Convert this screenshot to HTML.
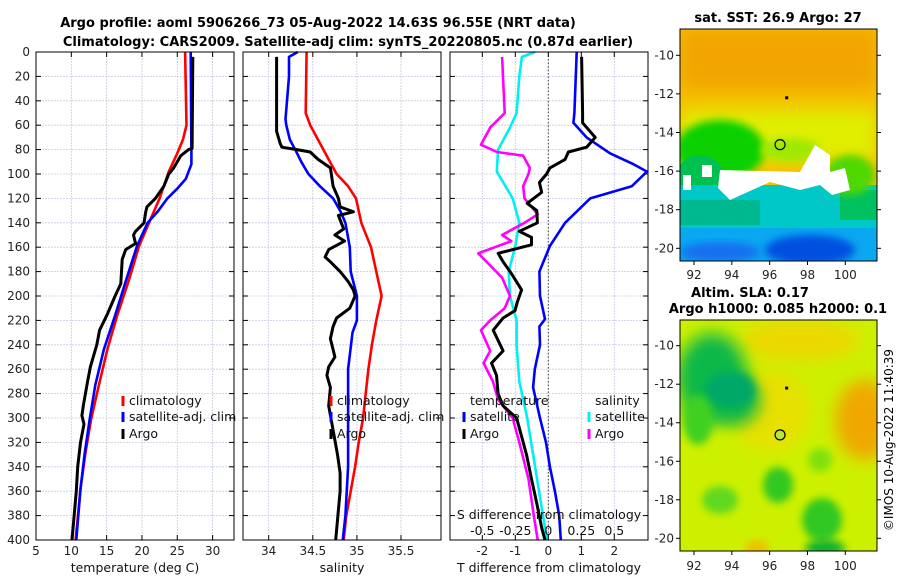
<!DOCTYPE html>
<html><head><meta charset="utf-8"><style>
html,body{margin:0;padding:0;background:#fff;}
svg{display:block;font-family:"DejaVu Sans","Liberation Sans",sans-serif;}
</style></head><body>
<svg id="fig" width="900" height="580" viewBox="0 0 900 580" xmlns="http://www.w3.org/2000/svg">
<defs>
<filter id="blur4" x="-20%" y="-20%" width="140%" height="140%"><feGaussianBlur stdDeviation="4"/></filter>
<filter id="blur8" x="-30%" y="-30%" width="160%" height="160%"><feGaussianBlur stdDeviation="8"/></filter>
<clipPath id="clipM1"><rect x="680" y="29" width="197" height="232"/></clipPath>
<clipPath id="clipM2"><rect x="680" y="320" width="197" height="231"/></clipPath>
</defs>
<text x="318" y="27" text-anchor="middle" font-size="13" font-weight="bold">Argo profile: aoml 5906266_73 05-Aug-2022 14.63S 96.55E (NRT data)</text>
<text x="348" y="46" text-anchor="middle" font-size="13" font-weight="bold">Climatology: CARS2009. Satellite-adj clim: synTS_20220805.nc (0.87d earlier)</text>
<g id="charts"></g>

<g>
<text x="778" y="22" text-anchor="middle" font-size="13" font-weight="bold">sat. SST: 26.9 Argo: 27</text>
<g clip-path="url(#clipM1)">
<rect x="680" y="29" width="197" height="232" fill="#f5c000"/>
<rect x="680" y="29" width="197" height="60" fill="#f2a400" filter="url(#blur8)"/>
<rect x="680" y="110" width="197" height="50" fill="#e0ee00" filter="url(#blur8)"/>
<ellipse cx="720" cy="150" rx="45" ry="30" fill="#10d000" filter="url(#blur4)"/>
<ellipse cx="700" cy="180" rx="25" ry="25" fill="#00c050"/>
<rect x="680" y="185" width="197" height="76" fill="#00c8c8"/>
<rect x="680" y="200" width="80" height="25" fill="#00b890"/>
<rect x="840" y="190" width="37" height="30" fill="#00c060"/>
<rect x="680" y="228" width="197" height="33" fill="#0aa8f0"/>
<ellipse cx="810" cy="250" rx="45" ry="15" fill="#0050e0" filter="url(#blur4)"/>
<ellipse cx="720" cy="252" rx="40" ry="10" fill="#1870f0" filter="url(#blur4)"/>
<ellipse cx="790" cy="150" rx="30" ry="12" fill="#a0e800" filter="url(#blur4)"/>
<ellipse cx="850" cy="175" rx="25" ry="20" fill="#50d800" filter="url(#blur4)"/>
<path d="M720 170 L800 172 L815 145 L830 155 L830 172 L845 168 L850 190 L832 195 L820 185 L800 190 L770 182 L730 200 L718 188 Z" fill="#ffffff"/>
<rect x="683" y="175" width="8" height="15" fill="#fff"/>
<rect x="702" y="165" width="10" height="12" fill="#fff"/>
</g>
<rect x="680" y="29" width="197" height="232" fill="none" stroke="#000" stroke-width="1"/>
</g>

<g>
<text x="750" y="297" text-anchor="middle" font-size="13" font-weight="bold">Altim. SLA: 0.17</text>
<text x="778" y="313" text-anchor="middle" font-size="13" font-weight="bold">Argo h1000: 0.085 h2000: 0.1</text>
<g clip-path="url(#clipM2)">
<rect x="680" y="320" width="197" height="231" fill="#cdf000"/>
<ellipse cx="800" cy="340" rx="60" ry="20" fill="#ecd800" filter="url(#blur8)"/>
<ellipse cx="865" cy="420" rx="30" ry="40" fill="#f0a800" filter="url(#blur8)"/>
<ellipse cx="770" cy="410" rx="40" ry="40" fill="#e8e000" filter="url(#blur8)"/>
<ellipse cx="712" cy="378" rx="35" ry="45" fill="#10b848" filter="url(#blur8)"/>
<ellipse cx="735" cy="400" rx="25" ry="25" fill="#10b848" filter="url(#blur8)"/>
<ellipse cx="730" cy="390" rx="25" ry="18" fill="#00a868" filter="url(#blur4)"/>
<ellipse cx="698" cy="420" rx="15" ry="25" fill="#40d020" filter="url(#blur4)"/>
<ellipse cx="720" cy="500" rx="18" ry="14" fill="#60d820" filter="url(#blur4)"/>
<ellipse cx="778" cy="485" rx="15" ry="18" fill="#30c820" filter="url(#blur4)"/>
<ellipse cx="822" cy="520" rx="20" ry="22" fill="#30c820" filter="url(#blur4)"/>
<ellipse cx="825" cy="548" rx="20" ry="8" fill="#10b030" filter="url(#blur4)"/>
<ellipse cx="820" cy="460" rx="12" ry="12" fill="#80e010" filter="url(#blur4)"/>
<ellipse cx="757" cy="548" rx="12" ry="8" fill="#f0c000" filter="url(#blur4)"/>
</g>
<rect x="680" y="320" width="197" height="231" fill="none" stroke="#000" stroke-width="1"/>
</g>
<text transform="translate(893,440) rotate(-90)" text-anchor="middle" font-size="12">©IMOS 10-Aug-2022 11:40:39</text>
</svg>

<script>
// ---------- data ----------
const climTDepth = [0,60,72,83,98,120,140,159,188,216,244,273,301,329,358,400];
const climT      = [26.1,26.3,25.8,25.0,23.8,22.5,21.0,19.6,18.1,16.5,15.1,13.9,12.8,12.0,11.3,10.6];
const satTDepth  = [0,83,92,98,104,112,120,131,140,159,188,216,244,273,301,329,358,400];
const satT       = [26.9,27.0,27.0,26.6,26.2,25.0,23.6,22.2,20.8,19.3,17.7,16.2,14.6,13.4,12.6,11.9,11.3,10.7];
const argoTDepth = [4,79,80,85,95,100,110,120,127,132,140,147,150,157,162,170,190,200,215,228,240,258,270,290,298,305,320,340,360,400];
const argoT      = [27.2,27.1,26.6,25.5,24.5,23.8,23.1,21.9,20.7,20.5,20.3,19.1,18.8,19.1,17.7,17.2,17.0,16.2,15.1,14.0,13.6,12.7,12.3,11.7,11.5,11.8,11.3,10.9,10.7,10.1];

const climSDepth = [0,50,60,80,100,110,120,140,160,180,200,220,240,260,280,300,320,340,360,380,400];
const climS      = [34.43,34.42,34.47,34.62,34.77,34.90,34.99,35.05,35.16,35.22,35.28,35.22,35.17,35.13,35.10,35.07,35.02,34.98,34.93,34.88,34.85];
const satSDepth  = [0,4,20,55,60,72,80,90,100,110,120,130,140,160,180,200,220,230,260,300,340,380,400];
const satS       = [34.33,34.23,34.23,34.19,34.20,34.24,34.30,34.37,34.45,34.58,34.73,34.81,34.87,34.92,34.93,35.00,35.00,34.95,34.90,34.90,34.90,34.87,34.84];
const argoSDepth = [4,65,75,78,80,82,88,95,100,110,120,127,131,134,145,150,155,162,168,172,180,188,195,200,210,218,225,235,250,258,265,275,290,310,330,345,360,400];
const argoS      = [34.09,34.09,34.13,34.15,34.32,34.47,34.56,34.70,34.71,34.73,34.79,34.81,34.96,34.79,34.85,34.75,34.86,34.68,34.64,34.70,34.81,34.90,34.96,34.98,34.92,34.77,34.73,34.70,34.75,34.68,34.66,34.70,34.68,34.73,34.78,34.81,34.81,34.76];

const dTSatDepth = [0,50,58,70,83,92,98,110,120,140,159,180,200,219,225,240,260,275,300,320,340,360,380,400];
const dTSat      = [0.86,0.79,0.76,1.16,1.87,2.58,2.99,2.53,1.27,0.51,0.05,-0.27,-0.25,-0.10,-0.27,-0.25,-0.41,-0.46,-0.25,-0.07,0.05,0.20,0.33,0.38];
const dTArgoDepth= [4,50,58,70,78,82,88,95,100,107,115,124,130,140,147,152,158,165,172,182,195,205,212,218,228,245,255,265,280,290,300,310,330,350,370,390,400];
const dTArgo     = [1.01,1.04,1.04,1.42,1.16,0.61,0.51,0.05,-0.05,-0.27,-0.20,-0.64,-0.35,-0.33,-0.88,-0.51,-0.51,-1.52,-1.37,-1.11,-0.81,-0.94,-1.01,-1.37,-1.67,-1.37,-1.72,-1.57,-1.52,-1.37,-0.96,-0.86,-0.66,-0.51,-0.35,-0.20,-0.10];
const dSSatDepth = [0,4,20,50,62,80,98,120,140,159,180,200,220,240,270,300,340,380,400];
const dSSat      = [-0.10,-0.20,-0.22,-0.24,-0.29,-0.38,-0.39,-0.27,-0.22,-0.25,-0.30,-0.29,-0.24,-0.24,-0.22,-0.16,-0.10,-0.04,-0.01];
const dSArgoDepth= [4,50,62,76,82,85,95,100,110,120,133,140,150,155,165,175,185,200,210,220,228,245,255,270,285,300,320,350,380,400];
const dSArgo     = [-0.35,-0.33,-0.44,-0.51,-0.39,-0.19,-0.14,-0.15,-0.19,-0.18,-0.08,-0.18,-0.35,-0.28,-0.53,-0.44,-0.35,-0.29,-0.33,-0.44,-0.51,-0.44,-0.49,-0.42,-0.38,-0.27,-0.22,-0.15,-0.11,-0.08];

const depthTicks = [0,20,40,60,80,100,120,140,160,180,200,220,240,260,280,300,320,340,360,380,400];
const tTicks = [5,10,15,20,25,30];
const sTicks = [34,34.5,35,35.5];
const dTTicks = [-2,-1,0,1,2];
const dSTicks = [-0.5,-0.25,0,0.25,0.5];
const dSTickLabels = ["-0.5","-0.25","0","0.25","0.5"];
const lonTicks = [92,94,96,98,100];
const latTicks = [-10,-12,-14,-16,-18,-20];
const argoLon = 96.55, argoLat = -14.63;
const markLon = 96.9, markLat = -12.2;

// ---------- helpers ----------
const NS = "http://www.w3.org/2000/svg";
const root = document.getElementById('charts');
const fig = document.getElementById('fig');
function mk(tag, attrs, parent){ const e=document.createElementNS(NS,tag); for(const k in attrs) e.setAttribute(k,attrs[k]); (parent||root).appendChild(e); return e; }
const Y0=52, Y1=540;
const yDepth = d => Y0 + (d/400)*(Y1-Y0);
function lin(d0,d1,r0,r1){ return v => r0 + (v-d0)/(d1-d0)*(r1-r0); }

function frame(name){
  const g = mk('g',{});
  
  
  return g;
}
function grid(g,x0,x1,xs,xf){
  depthTicks.forEach(d=>{ if(d>0 && d<400){ const l=mk('line',{x1:x0,x2:x1,y1:yDepth(d),y2:yDepth(d),stroke:'#c5cbe0','stroke-width':0.8,'stroke-dasharray':'2,1'},g);
    
     }});
  xs.forEach(v=>{ const x=xf(v); if(x>x0+1 && x<x1-1){ const l=mk('line',{x1:x,x2:x,y1:Y0,y2:Y1,stroke:'#c5cbe0','stroke-width':0.8,'stroke-dasharray':'2,1'},g);
    
     }});
}
function box(g,x0,x1,xs,xf,labels,lblY){
  mk('rect',{x:x0,y:Y0,width:x1-x0,height:Y1-Y0,fill:'none',stroke:'#000','stroke-width':1},g);
  depthTicks.forEach(d=>{ mk('line',{x1:x0,x2:x0+5,y1:yDepth(d),y2:yDepth(d),stroke:'#000'},g); mk('line',{x1:x1-5,x2:x1,y1:yDepth(d),y2:yDepth(d),stroke:'#000'},g); });
  xs.forEach((v,i)=>{ const x=xf(v); mk('line',{x1:x,x2:x,y1:Y1,y2:Y1-5,stroke:'#000'},g); mk('line',{x1:x,x2:x,y1:Y0,y2:Y0+5,stroke:'#000'},g);
    const t=mk('text',{x:x,y:lblY,'text-anchor':'middle','font-size':12,fill:'#222'},g); t.textContent=labels[i];
    
     });
}
function line(g,depths,vals,xf,color,name,w){
  const pts = depths.map((d,i)=>xf(vals[i]).toFixed(1)+','+yDepth(d).toFixed(1)).join(' ');
  const p = mk('polyline',{points:pts,fill:'none',stroke:color,'stroke-width':w||2.6,'stroke-linejoin':'round'},g);
  
  
}
function txt(g,x,y,s,opts){ const t=mk('text',Object.assign({x:x,y:y,'font-size':12.5,fill:'#111'},opts||{}),g); t.textContent=s; return t; }
function legendEntry(g,x,y,color,label){
  const e = mk('g',{},g);
  
  
  mk('line',{x1:x,x2:x,y1:y-9,y2:y+1,stroke:color,'stroke-width':3},e);
  txt(e,x+6,y,label);
}

// depth labels
const yl = mk('g',{});


depthTicks.forEach(d=>{ const t=txt(yl,30,yDepth(d)+4,String(d),{'text-anchor':'end',fill:'#222','font-size':12});
  
   });

// panel 1
{ const x0=36,x1=234; const xf=lin(5,30,36,212.6);
  const g=frame('temperature-panel');
  grid(g,x0,x1,tTicks,xf);
  line(g,climTDepth,climT,xf,'#ff0000','climatology-temperature-line');
  line(g,satTDepth,satT,xf,'#0000ff','satellite-temperature-line');
  line(g,argoTDepth,argoT,xf,'#000000','argo-temperature-line',3);
  box(g,x0,x1,tTicks,xf,tTicks.map(String),555);
  const t=txt(g,135,572,'temperature (deg C)',{'text-anchor':'middle'});
  
  
  legendEntry(g,123,405,'#ff0000','climatology');
  legendEntry(g,123,421,'#0000ff','satellite-adj. clim');
  legendEntry(g,123,438,'#000000','Argo');
}
// panel 2
{ const x0=243,x1=441; const xf=lin(34,35.5,268.7,401);
  const g=frame('salinity-panel');
  grid(g,x0,x1,sTicks,xf);
  line(g,climSDepth,climS,xf,'#ff0000','climatology-salinity-line');
  line(g,satSDepth,satS,xf,'#0000ff','satellite-salinity-line');
  line(g,argoSDepth,argoS,xf,'#000000','argo-salinity-line',3);
  box(g,x0,x1,sTicks,xf,["34","34.5","35","35.5"],555);
  const t=txt(g,342,572,'salinity',{'text-anchor':'middle'});
  
  
  legendEntry(g,331,405,'#ff0000','climatology');
  legendEntry(g,331,421,'#0000ff','satellite-adj. clim');
  legendEntry(g,331,438,'#000000','Argo');
}
// panel 3
{ const x0=450,x1=648; const xf=lin(-2,2,482.3,614.3); const sf=lin(-0.5,0.5,482.3,614.3);
  const g=frame('difference-panel');
  grid(g,x0,x1,dTTicks,xf);
  const z=mk('line',{x1:xf(0),x2:xf(0),y1:Y0,y2:Y1,stroke:'#444','stroke-width':1,'stroke-dasharray':'1.5,2'},g);
  
  
  line(g,dSSatDepth,dSSat,sf,'#00f0f0','satellite-salinity-diff-line');
  line(g,dSArgoDepth,dSArgo,sf,'#ff00ff','argo-salinity-diff-line');
  line(g,dTSatDepth,dTSat,xf,'#0000ff','satellite-temperature-diff-line');
  line(g,dTArgoDepth,dTArgo,xf,'#000000','argo-temperature-diff-line',3);
  box(g,x0,x1,dTTicks,xf,dTTicks.map(String),555);
  const t=txt(g,549,572,'T difference from climatology',{'text-anchor':'middle'});
  
  
  const t2=txt(g,549,519,'S difference from climatology',{'text-anchor':'middle'});
  
  
  dSTicks.forEach((v,i)=>{ const l=txt(g,sf(v),535,dSTickLabels[i],{'text-anchor':'middle'});
    
     });
  txt(g,470,405,'temperature');
  txt(g,595,405,'salinity');
  legendEntry(g,464,421,'#0000ff','satellite');
  legendEntry(g,464,438,'#000000','Argo');
  legendEntry(g,589,421,'#00f0f0','satellite');
  legendEntry(g,589,438,'#ff00ff','Argo');
}
// map axes
function mapAxes(name,x0,x1,yBot,lat10y,lat20y,lblY,circleFill){
  const g = mk('g',{},fig);
  
  
  const xf = lin(92,100,694,845.3);
  const yf = lin(-10,-20,lat10y,lat20y);
  lonTicks.forEach(v=>{ const x=xf(v); mk('line',{x1:x,x2:x,y1:yBot,y2:yBot+4,stroke:'#000'},g);
    const t=txt(g,x,lblY,String(v),{'text-anchor':'middle',fill:'#222','font-size':12});
    
     });
  latTicks.forEach(v=>{ const y=yf(v); mk('line',{x1:x0-4,x2:x0,y1:y,y2:y,stroke:'#000'},g); mk('line',{x1:x1,x2:x1+4,y1:y,y2:y,stroke:'#000'},g);
    const t=txt(g,x0-6,y+4,String(v),{'text-anchor':'end',fill:'#222','font-size':12});
    
     });
  const c = mk('circle',{cx:xf(argoLon),cy:yf(argoLat),r:5,fill:circleFill,stroke:'#000','stroke-width':1.2},g);
  
  
  const m = mk('rect',{x:xf(markLon)-1.5,y:yf(markLat)-1.5,width:3,height:3,fill:'#000'},g);
  
  
}
mapAxes('sst-map-axes',680,877,261,55.3,248.3,279,'none');
mapAxes('sla-map-axes',680,877,551,345.7,538.3,570,'#b8e830');
</script>
</body></html>
